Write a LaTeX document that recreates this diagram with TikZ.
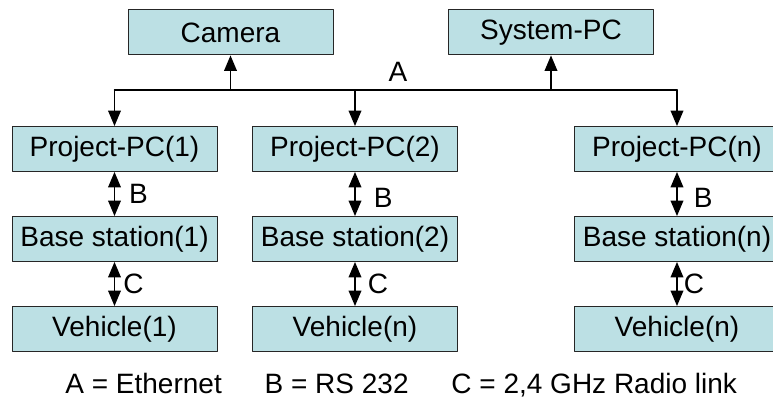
\documentclass[tikz,border=0pt]{standalone}
\usepackage{fontspec}
\setmainfont{Liberation Sans}
\usetikzlibrary{arrows}
\usetikzlibrary{positioning}

\definecolor{boxfill}{RGB}{188,224,228}

\begin{document}
\begin{tikzpicture}[line cap=round,line join=round,>=triangle 45,x=0.5pt,y=-0.5pt,
  box/.style={draw=black!85,fill=boxfill,line width=0.5pt,minimum width=102.5pt,
    minimum height=22.5pt,inner sep=0pt,font=\fontsize{14}{16}\selectfont},
  lbl/.style={inner sep=0pt,font=\fontsize{14}{16}\selectfont},
  link/.style={line width=0.75pt}]
\useasboundingbox (0,0) rectangle (773,400);
% top row
\node[box] (cam) at (230.5,32.5) {Camera};
\node[box] (spc) at (551,32.5) {System-PC};
% the three columns
\node[box] (pc1) at (114.5,149) {Project-PC(1)};
\node[box] (pc2) at (355,149) {Project-PC(2)};
\node[box] (pcn) at (677,149) {Project-PC(n)};
\node[box,below=22pt of pc1] (bs1) {Base station(1)};
\node[box,below=22pt of pc2] (bs2) {Base station(2)};
\node[box,below=22pt of pcn] (bsn) {Base station(n)};
\node[box,below=22pt of bs1] (veh1) {Vehicle(1)};
\node[box,below=22pt of bs2] (veh2) {Vehicle(n)};
\node[box,below=22pt of bsn] (vehn) {Vehicle(n)};
% ethernet bus
\coordinate (bus) at (0,90);
\draw[link] (pc1.north |- bus) -- (pcn.north |- bus);
\draw[link,->] (cam.south |- bus) -- (cam.south);
\draw[link,->] (spc.south |- bus) -- (spc.south);
\draw[link,->] (pc1.north |- bus) -- (pc1.north);
\draw[link,->] (pc2.north |- bus) -- (pc2.north);
\draw[link,->] (pcn.north |- bus) -- (pcn.north);
\node[lbl] (labA) at (398,72) {A};
% serial and radio links
\draw[link,<->] (pc1) -- node[lbl,right=7pt] (labB1) {B} (bs1);
\draw[link,<->] (pc2) -- node[lbl,right=9pt,yshift=-2pt] (labB2) {B} (bs2);
\draw[link,<->] (pcn) -- node[lbl,right=8pt,yshift=-2pt] (labBn) {B} (bsn);
\draw[link,<->] (bs1) -- node[lbl,right=4pt] (labC1) {C} (veh1);
\draw[link,<->] (bs2) -- node[lbl,right=6pt] (labC2) {C} (veh2);
\draw[link,<->] (bsn) -- node[lbl,right=3pt] (labCn) {C} (vehn);
% legend
\node[lbl,anchor=base west] (legA) at (65,394) {A = Ethernet};
\node[lbl,right=21pt of legA.base east,anchor=base west] (legB) {B = RS 232};
\node[lbl,right=21pt of legB.base east,anchor=base west] (legC) {C = 2,4 GHz Radio link};
\end{tikzpicture}
\end{document}
